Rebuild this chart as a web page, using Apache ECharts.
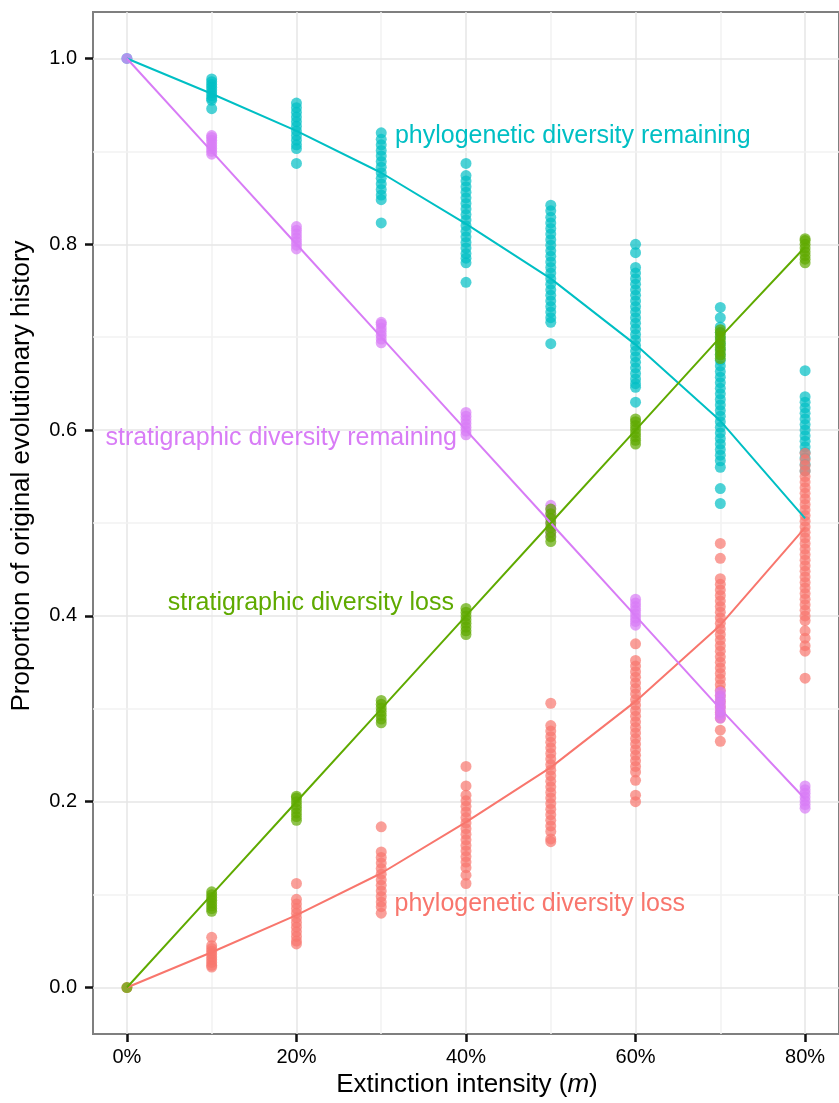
<!DOCTYPE html>
<html><head><meta charset="utf-8">
<script src="https://cdn.jsdelivr.net/npm/echarts@6/dist/echarts.min.js"></script>
<style>html,body{margin:0;padding:0;background:#fff}#c{width:839px;height:1103px}</style>
</head><body><div id="c"></div><script>
// ---- data ----
const intensities = [0, 10, 20, 30, 40, 50, 60, 70, 80];
const xTickValues = [0, 20, 40, 60, 80];
const xMinorValues = [10, 30, 50, 70];
const yTickValues = [0, 0.2, 0.4, 0.6, 0.8, 1.0];
const yMinorValues = [0.1, 0.3, 0.5, 0.7, 0.9];

// phylogenetic diversity remaining (points per intensity)
const phyloRemainPts = [
  [1.0],
  [0.978,0.975,0.972,0.969,0.966,0.963,0.960,0.957,0.955,0.946],
  [0.952,0.947,0.942,0.937,0.932,0.927,0.922,0.917,0.912,0.907,0.903,0.887],
  [0.920,0.913,0.907,0.901,0.895,0.889,0.883,0.877,0.871,0.865,0.859,0.853,0.848,0.823],
  [0.887,0.874,0.868,0.862,0.856,0.850,0.844,0.838,0.832,0.826,0.820,0.814,0.808,0.802,0.796,0.790,0.785,0.780,0.759],
  [0.842,0.836,0.829,0.823,0.817,0.811,0.805,0.799,0.793,0.787,0.781,0.775,0.769,0.763,0.757,0.751,0.745,0.739,0.733,0.727,0.721,0.716,0.693],
  [0.800,0.791,0.775,0.769,0.763,0.757,0.751,0.745,0.739,0.733,0.727,0.721,0.715,0.709,0.703,0.697,0.691,0.685,0.679,0.673,0.667,0.661,0.655,0.650,0.646,0.630],
  [0.732,0.721,0.711,0.705,0.699,0.693,0.687,0.681,0.675,0.669,0.663,0.657,0.651,0.645,0.639,0.633,0.627,0.621,0.615,0.609,0.603,0.597,0.591,0.585,0.579,0.573,0.567,0.560,0.537,0.521],
  [0.664,0.636,0.630,0.624,0.618,0.612,0.606,0.600,0.594,0.588,0.582,0.576,0.570,0.563,0.556]
];
// phylogenetic diversity loss
const phyloLossPts = [
  [0.0],
  [0.054,0.045,0.042,0.039,0.036,0.033,0.030,0.027,0.024,0.022],
  [0.112,0.095,0.090,0.085,0.080,0.075,0.070,0.065,0.060,0.055,0.050,0.047],
  [0.173,0.146,0.140,0.134,0.128,0.122,0.116,0.110,0.104,0.098,0.092,0.087,0.080],
  [0.238,0.217,0.207,0.201,0.195,0.189,0.183,0.177,0.171,0.165,0.159,0.153,0.147,0.141,0.135,0.129,0.121,0.112],
  [0.306,0.282,0.276,0.270,0.264,0.258,0.252,0.246,0.240,0.234,0.228,0.222,0.216,0.210,0.204,0.198,0.192,0.186,0.180,0.174,0.168,0.160,0.157],
  [0.370,0.352,0.346,0.340,0.334,0.328,0.322,0.316,0.310,0.304,0.298,0.292,0.286,0.280,0.274,0.268,0.262,0.256,0.250,0.244,0.238,0.232,0.223,0.207,0.200],
  [0.478,0.462,0.440,0.434,0.428,0.422,0.416,0.410,0.404,0.398,0.392,0.386,0.380,0.374,0.368,0.362,0.356,0.350,0.344,0.338,0.332,0.326,0.320,0.314,0.308,0.302,0.296,0.290,0.277,0.265],
  [0.575,0.568,0.562,0.556,0.550,0.544,0.538,0.532,0.526,0.520,0.514,0.508,0.502,0.496,0.490,0.484,0.478,0.472,0.466,0.460,0.454,0.448,0.442,0.436,0.430,0.424,0.418,0.412,0.406,0.400,0.395,0.384,0.376,0.368,0.362,0.333]
];
// stratigraphic diversity loss
const stratLossPts = [
  [0.0],
  [0.082,0.085,0.088,0.091,0.094,0.097,0.100,0.103],
  [0.180,0.184,0.188,0.192,0.196,0.200,0.204,0.206],
  [0.285,0.289,0.293,0.297,0.301,0.305,0.309],
  [0.380,0.384,0.388,0.392,0.396,0.400,0.404,0.408],
  [0.480,0.485,0.490,0.495,0.500,0.505,0.510,0.515],
  [0.585,0.589,0.593,0.597,0.601,0.605,0.609,0.612],
  [0.677,0.681,0.685,0.689,0.693,0.697,0.701,0.705,0.708],
  [0.780,0.784,0.788,0.792,0.796,0.800,0.804,0.806]
];
// stratigraphic diversity remaining
const stratRemainPts = [
  [1.0],
  [0.897,0.900,0.903,0.906,0.909,0.912,0.915,0.917],
  [0.795,0.799,0.803,0.807,0.811,0.815,0.819],
  [0.694,0.698,0.702,0.706,0.710,0.714,0.716],
  [0.595,0.599,0.603,0.607,0.611,0.615,0.619],
  [0.486,0.490,0.495,0.500,0.505,0.510,0.515,0.519],
  [0.390,0.394,0.398,0.402,0.406,0.410,0.414,0.418],
  [0.290,0.294,0.298,0.302,0.306,0.310,0.314,0.318],
  [0.193,0.197,0.201,0.205,0.209,0.213,0.217]
];
// mean lines
const phyloRemainMean = [1.0, 0.962, 0.922, 0.877, 0.822, 0.763, 0.692, 0.610, 0.505];
const phyloLossMean   = [0.0, 0.038, 0.078, 0.123, 0.178, 0.237, 0.308, 0.390, 0.495];
const stratLossMean   = [0.0, 0.1, 0.2, 0.3, 0.4, 0.5, 0.6, 0.7, 0.797];
const stratRemainMean = [1.0, 0.9, 0.8, 0.7, 0.6, 0.5, 0.4, 0.3, 0.203];

// annotations
const annotTexts = ['phylogenetic diversity remaining', 'stratigraphic diversity remaining', 'stratigraphic diversity loss', 'phylogenetic diversity loss'];
const annotX = [52.6, 18.2, 21.7, 48.7];
const annotY = [0.916, 0.591, 0.414, 0.090];

// ---- styles ----
const COL = { cyan: '#00BFC4', red: '#F8766D', green: '#5FAA00', purple: '#D87CF6' };
const annotColors = [COL.cyan, COL.purple, COL.green, COL.red];
const FONT = 'Liberation Sans, Arial, Helvetica, sans-serif';

function pts(arr) {
  const out = [];
  arr.forEach((vals, i) => vals.forEach(v => out.push([intensities[i], v])));
  return out;
}
function line(arr) { return arr.map((v, i) => [intensities[i], v]); }

function scatter(name, arr, color, z) {
  return { name, type: 'scatter', data: pts(arr), symbolSize: 11, z,
    itemStyle: { color, opacity: 0.7 }, silent: true, animation: false };
}
function meanLine(name, arr, color, z) {
  return { name, type: 'line', data: line(arr), showSymbol: false, symbol: 'none', z,
    lineStyle: { color, width: 2 }, silent: true, animation: false };
}

const gridMark = [];
xTickValues.forEach(v => gridMark.push({ xAxis: v, lineStyle: { color: '#E6E6E6', width: 1.5, type: 'solid' } }));
xMinorValues.forEach(v => gridMark.push({ xAxis: v, lineStyle: { color: '#F2F2F2', width: 1.5, type: 'solid' } }));
yTickValues.forEach(v => gridMark.push({ yAxis: v, lineStyle: { color: '#E6E6E6', width: 1.5, type: 'solid' } }));
yMinorValues.forEach(v => gridMark.push({ yAxis: v, lineStyle: { color: '#F2F2F2', width: 1.5, type: 'solid' } }));

const chart = echarts.init(document.getElementById('c'), null, { renderer: 'canvas' });
chart.setOption({
  animation: false,
  backgroundColor: '#ffffff',
  grid: { left: 93, top: 12, width: 756, height: 1022, show: true, borderColor: '#7F7F7F', borderWidth: 2, backgroundColor: 'transparent', containLabel: false, z: 0 },
  xAxis: {
    type: 'value', min: -4, max: 84, position: 'bottom',
    axisLine: { show: false, onZero: false },
    splitLine: { show: false },
    axisTick: { show: true, inside: false, customValues: xTickValues, length: 8, lineStyle: { color: '#111', width: 2.5 } },
    axisLabel: { customValues: xTickValues, formatter: v => v + '%', fontSize: 20, color: '#000', margin: 13, fontFamily: FONT }
  },
  yAxis: {
    type: 'value', min: -0.05, max: 1.05, position: 'left',
    axisLine: { show: false, onZero: false },
    splitLine: { show: false },
    axisTick: { show: true, inside: false, customValues: yTickValues, length: 8, lineStyle: { color: '#111', width: 2.5 } },
    axisLabel: { customValues: yTickValues, formatter: v => v.toFixed(1), fontSize: 20, color: '#000', margin: 16, fontFamily: FONT }
  },
  series: [
    { type: 'line', data: [], z: 0, silent: true,
      markLine: { z: 0, silent: true, symbol: ['none', 'none'], label: { show: false }, animation: false, data: gridMark } },
    scatter('phylogenetic diversity remaining', phyloRemainPts, COL.cyan, 2),
    scatter('phylogenetic diversity loss', phyloLossPts, COL.red, 2),
    scatter('stratigraphic diversity remaining', stratRemainPts, COL.purple, 2),
    scatter('stratigraphic diversity loss', stratLossPts, COL.green, 2),
    meanLine('phylo remaining mean', phyloRemainMean, COL.cyan, 3),
    meanLine('phylo loss mean', phyloLossMean, COL.red, 3),
    meanLine('strat remaining mean', stratRemainMean, COL.purple, 3),
    meanLine('strat loss mean', stratLossMean, COL.green, 3),
    { type: 'scatter', z: 4, silent: true, symbolSize: 1,
      itemStyle: { color: 'transparent' },
      data: annotTexts.map((t, i) => ({ value: [annotX[i], annotY[i]],
        label: { show: true, position: 'inside', formatter: t, color: annotColors[i], opacity: 1, textBorderWidth: 0, textBorderColor: 'transparent', fontSize: 25, fontFamily: FONT } })) }
  ],
  graphic: [
    { type: 'text', x: 22, y: 476, rotation: Math.PI / 2, silent: true,
      style: { text: 'Proportion of original evolutionary history', fill: '#000', fontSize: 26, fontFamily: FONT, align: 'center', verticalAlign: 'middle' } },
    { type: 'text', x: 467, y: 1085, silent: true,
      style: { text: '{n|Extinction intensity (}{i|m}{n|)}', align: 'center', verticalAlign: 'middle',
        rich: { n: { fontSize: 26, fontFamily: FONT, fill: '#000', color: '#000' }, i: { fontSize: 26, fontFamily: FONT, fontStyle: 'italic', fill: '#000', color: '#000' } } } }
  ]
});
</script></body></html>
